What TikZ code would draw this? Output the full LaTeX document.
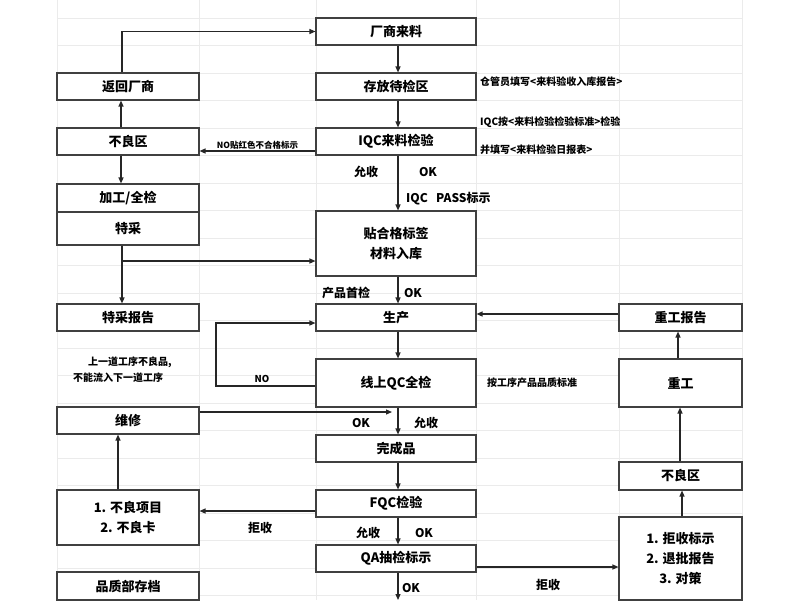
\documentclass[tikz,border=0pt]{standalone}
\usepackage{fontspec}
\setmainfont{Noto Sans CJK SC}
\usetikzlibrary{arrows.meta}
\begin{document}
\begin{tikzpicture}[x=1pt,y=-1pt,
 box/.style={draw=black!75,line width=1.1pt,fill=white,inner sep=0pt,font=\fontsize{13}{20}\selectfont\bfseries,align=center},
 ar/.style={draw=black!85,line width=1.2pt,-{Triangle[length=6pt,width=5pt]}},
 lb/.style={font=\fontsize{12}{14}\selectfont\bfseries,inner sep=0pt},
 sm/.style={font=\fontsize{10}{12}\selectfont\bfseries,inner sep=0pt,anchor=west}]
\useasboundingbox (0,0) rectangle (800,600);
\fill[white] (0,0) rectangle (800,600);
\foreach \y in {18,45.5,73,100.5,128,155.5,183,210.5,238,265.5,293,320.5,348,375.5,403,430.5,458,485.5,513,540.5,568,595.5}
  \draw[black!8,line width=0.6pt] (57,\y) -- (742,\y);
\foreach \x in {57,199,316,476,619,742}
  \draw[black!8,line width=0.6pt] (\x,0) -- (\x,600);
% center column
\node[box,minimum width=160pt,minimum height=27pt] (a) at (396,31.5) {厂商来料};
\node[box,minimum width=160pt,minimum height=27pt] (b) at (396,86.5) {存放待检区};
\node[box,minimum width=160pt,minimum height=27pt] (c) at (396,141.5) {IQC来料检验};
\node[box,minimum width=160pt,minimum height=65pt] (d) at (396,243.5) {贴合格标签\\材料入库};
\node[box,minimum width=160pt,minimum height=27pt] (e) at (396,317.5) {生产};
\node[box,minimum width=160pt,minimum height=48pt] (f) at (396,383) {线上QC全检};
\node[box,minimum width=160pt,minimum height=27pt] (g) at (396,448.5) {完成品};
\node[box,minimum width=160pt,minimum height=27pt] (h) at (396,503.5) {FQC检验};
\node[box,minimum width=160pt,minimum height=27pt] (i) at (396,558.5) {QA抽检标示};
% left column
\node[box,minimum width=142pt,minimum height=27pt] (l1) at (128,86.5) {返回厂商};
\node[box,minimum width=142pt,minimum height=27pt] (l2) at (128,141.5) {不良区};
\node[box,minimum width=142pt,minimum height=28pt] (l3) at (128,198) {加工/全检};
\node[box,minimum width=142pt,minimum height=33pt] (l4) at (128,228.5) {特采};
\node[box,minimum width=142pt,minimum height=27pt] (l5) at (128,317.5) {特采报告};
\node[box,minimum width=142pt,minimum height=27pt] (l6) at (128,420.5) {维修};
\node[box,minimum width=142pt,minimum height=55pt] (l7) at (128,517.5) {1. 不良项目\\2. 不良卡};
\node[box,minimum width=142pt,minimum height=28pt] (l8) at (128,586) {品质部存档};
% right column
\node[box,minimum width=123pt,minimum height=27pt] (r1) at (680.5,317.5) {重工报告};
\node[box,minimum width=123pt,minimum height=48pt] (r2) at (680.5,383) {重工};
\node[box,minimum width=123pt,minimum height=28pt] (r3) at (680.5,476) {不良区};
\node[box,minimum width=123pt,minimum height=83pt] (r4) at (680.5,558.5) {1. 拒收标示\\2. 退批报告\\3. 对策};
\coordinate (bot) at (398,600);
% center arrows
\draw[ar] (a.south -| 398,0) -- (b.north -| 398,0);
\draw[ar] (b.south -| 398,0) -- (c.north -| 398,0);
\draw[ar] (c.south -| 398,0) -- (d.north -| 398,0);
\draw[ar] (d.south -| 398,0) -- (e.north -| 398,0);
\draw[ar] (e.south -| 398,0) -- (f.north -| 398,0);
\draw[ar] (f.south -| 398,0) -- (g.north -| 398,0);
\draw[ar] (g.south -| 398,0) -- (h.north -| 398,0);
\draw[ar] (h.south -| 398,0) -- (i.north -| 398,0);
\draw[ar] (i.south -| 398,0) -- (bot);
% left loops
\draw[ar] (l1.north -| 122,0) |- (a.west);
\draw[ar] (l2.north -| 121,0) -- (l1.south -| 121,0);
\draw[ar] (c.west |- 0,151) -- (l2.east |- 0,151) node[midway,above=1pt,font=\fontsize{8.5}{9}\selectfont\bfseries,inner sep=0pt] {NO贴红色不合格标示};
\draw[ar] (l2.south -| 121,0) -- (l3.north -| 121,0);
\draw[ar] (l4.south -| 122,0) -- (l5.north -| 122,0);
\draw[ar] (122,261) -- (d.west |- 0,261);
\draw[ar] (f.west |- 0,386) -| (216,323) -- (e.west |- 0,323);
\node[lb,font=\fontsize{9.5}{11}\selectfont\bfseries] at (262,379) {NO};
\draw[ar] (l6.east |- 0,412) -- (392,412);
\draw[ar] (h.west |- 0,511) -- (l7.east |- 0,511);
\draw[ar] (l7.north -| 118,0) -- (l6.south -| 118,0);
% right loops
\draw[ar] (i.east |- 0,567) -- (r4.west |- 0,567);
\draw[ar] (r4.north -| 682,0) -- (r3.south -| 682,0);
\draw[ar] (r3.north -| 680,0) -- (r2.south -| 680,0);
\draw[ar] (r2.north -| 678,0) -- (r1.south -| 678,0);
\draw[ar] (r1.west |- 0,314) -- (e.east |- 0,314);
% labels
\node[lb] at (366,172) {允收};
\node[lb] at (428,172) {OK};
\node[lb,anchor=west] at (406,199) {IQC\ \ \ PASS标示};
\node[lb] at (346,293) {产品首检};
\node[lb] at (413,293) {OK};
\node[lb] at (361,423) {OK};
\node[lb] at (426,423) {允收};
\node[lb] at (260,528) {拒收};
\node[lb] at (368,533) {允收};
\node[lb] at (424,533) {OK};
\node[lb] at (411,588) {OK};
\node[lb] at (548,585) {拒收};
\node[sm] at (480,82) {仓管员填写<来料验收入库报告>};
\node[sm] at (480,122) {IQC按<来料检验检验标准>检验};
\node[sm] at (480,150) {并填写<来料检验日报表>};
\node[sm] at (487,383) {按工序产品品质标准};
\node[sm] at (88,362) {上一道工序不良品,};
\node[sm] at (73,378) {不能流入下一道工序};
\end{tikzpicture}
\end{document}
